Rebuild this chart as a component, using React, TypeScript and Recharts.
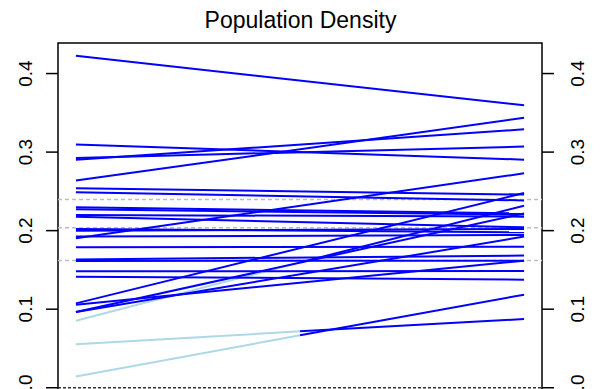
import { LineChart, Line, XAxis, YAxis, ReferenceLine, ReferenceArea } from "recharts";

// slope values at the two ends of each line
const leftValues = [
  0.4226, 0.3096, 0.2926, 0.2901, 0.2637, 0.2539, 0.2488, 0.2297, 0.2271,
  0.22, 0.2178, 0.2022, 0.2, 0.1924, 0.1902, 0.1787, 0.1634, 0.1614, 0.1482,
  0.1414, 0.1074, 0.1057, 0.0964, 0.0964,
];
const rightValues = [
  0.3596, 0.2904, 0.307, 0.329, 0.3436, 0.2459, 0.2385, 0.222, 0.2204,
  0.2178, 0.2042, 0.1979, 0.2022, 0.1945, 0.273, 0.1796, 0.1682, 0.1618,
  0.1486, 0.1376, 0.248, 0.1618, 0.1924, 0.222,
];

// lines whose first half is drawn pale (start, middle, end)
const paleLeft = [0.0853, 0.0552, 0.0144];
const paleMid = [0.1596, 0.0718, 0.0667];
const paleRight = [0.2317, 0.0875, 0.1185];

const dashedLevels = [0.2398, 0.2037, 0.1621];
const yTicks = [0, 0.1, 0.2, 0.3, 0.4];

const X_DOMAIN: [number, number] = [0.96, 2.04];
const Y_DOMAIN: [number, number] = [-0.0169, 0.4389];

const FONT = "'Liberation Sans', Arial, Helvetica, sans-serif";
const BLUE = "#0000FF";
const PALE = "#ADD8E6";

function makeTick(dx: number) {
  return (props: any) => {
    const { x, y, payload } = props;
    const bx = x + dx;
    return (
      <text
        x={bx}
        y={y}
        transform={`rotate(-90 ${bx} ${y})`}
        textAnchor="middle"
        fontSize={19}
        fontFamily={FONT}
        fill="#000"
      >
        {Number(payload.value).toFixed(1)}
      </text>
    );
  };
}

export default function App() {
  return (
    <div
      style={{
        position: "absolute",
        left: 0,
        top: 0,
        width: 601,
        height: 389,
        overflow: "hidden",
        background: "#fff",
      }}
    >
      <div
        style={{
          position: "absolute",
          left: 0,
          width: 601,
          top: 9,
          textAlign: "center",
          fontFamily: FONT,
          fontSize: 23,
          lineHeight: "23px",
          color: "#000",
        }}
      >
        Population Density
      </div>
      <LineChart width={601} height={420} margin={{ top: 43, right: 0, bottom: 19, left: 0 }}>
        <XAxis type="number" dataKey="x" domain={X_DOMAIN} allowDataOverflow hide />
        <YAxis
          yAxisId="left"
          type="number"
          domain={Y_DOMAIN}
          allowDataOverflow
          ticks={yTicks}
          width={58}
          axisLine={false}
          tickSize={12}
          tickMargin={0}
          tickLine={{ stroke: "#000", strokeWidth: 1.5 }}
          tick={makeTick(-14)}
        />
        <YAxis
          yAxisId="right"
          orientation="right"
          type="number"
          domain={Y_DOMAIN}
          allowDataOverflow
          ticks={yTicks}
          width={59}
          axisLine={false}
          tickSize={12}
          tickMargin={0}
          tickLine={{ stroke: "#000", strokeWidth: 1.5 }}
          tick={makeTick(30)}
        />
        {dashedLevels.map((v, i) => (
          <ReferenceLine
            key={"d" + i}
            yAxisId="left"
            y={v}
            stroke="#BEBEBE"
            strokeWidth={1.5}
            strokeDasharray="4 3"
          />
        ))}
        <ReferenceLine yAxisId="left" y={0} stroke="#333" strokeWidth={1.5} strokeDasharray="3 2" />
        {paleLeft.map((v, i) => (
          <Line
            key={"p" + i}
            yAxisId="left"
            data={[
              { x: 1, y: v },
              { x: 1.5, y: paleMid[i] },
            ]}
            dataKey="y"
            stroke={PALE}
            strokeWidth={2}
            dot={false}
            activeDot={false}
            isAnimationActive={false}
          />
        ))}
        {leftValues.map((v, i) => (
          <Line
            key={"l" + i}
            yAxisId="left"
            data={[
              { x: 1, y: v },
              { x: 2, y: rightValues[i] },
            ]}
            dataKey="y"
            stroke={BLUE}
            strokeWidth={2}
            dot={false}
            activeDot={false}
            isAnimationActive={false}
          />
        ))}
        {paleMid.map((v, i) => (
          <Line
            key={"m" + i}
            yAxisId="left"
            data={[
              { x: 1.5, y: v },
              { x: 2, y: paleRight[i] },
            ]}
            dataKey="y"
            stroke={BLUE}
            strokeWidth={2}
            dot={false}
            activeDot={false}
            isAnimationActive={false}
          />
        ))}
        <ReferenceArea
          yAxisId="left"
          x1={X_DOMAIN[0]}
          x2={X_DOMAIN[1]}
          y1={Y_DOMAIN[0]}
          y2={Y_DOMAIN[1]}
          fill="none"
          fillOpacity={0}
          stroke="#000"
          strokeWidth={1.5}
        />
      </LineChart>
    </div>
  );
}
